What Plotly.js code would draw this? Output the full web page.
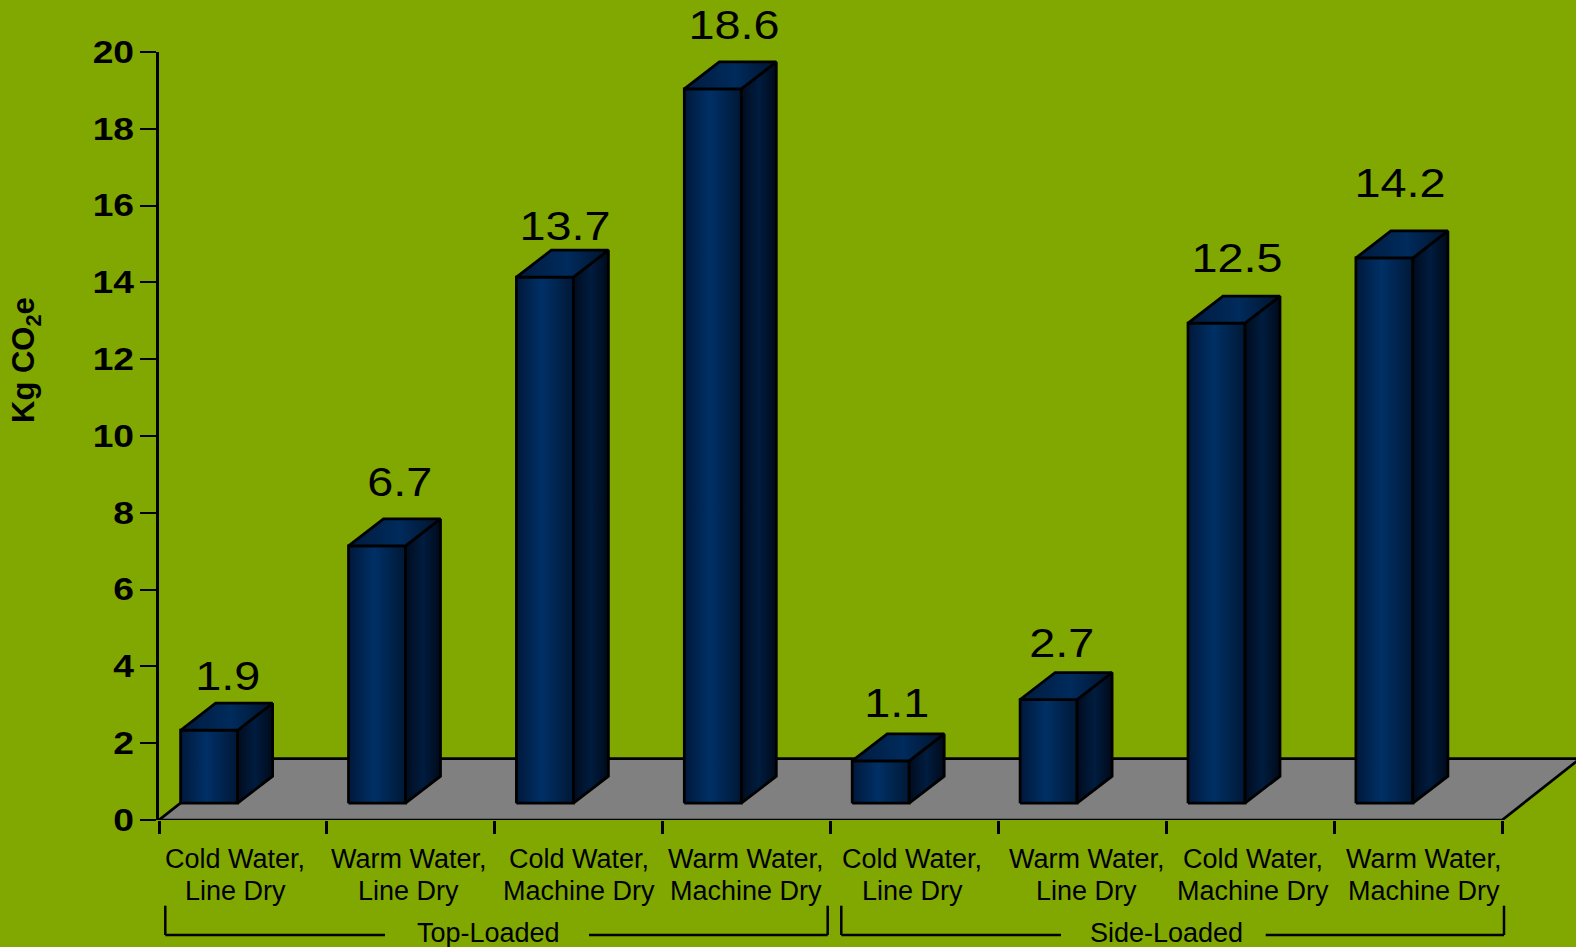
<!DOCTYPE html>
<html>
<head>
<meta charset="utf-8">
<script src="https://cdn.plot.ly/plotly-3.0.1.min.js"></script>
<style>
  html, body { margin: 0; padding: 0; background: #80a800; overflow: hidden; }
</style>
</head>
<body>
<div id="chart"></div>
<script>
// Laundry footprint per load, one column per wash and dry routine
const categories = [
  ["Cold Water,", "Line Dry"], ["Warm Water,", "Line Dry"],
  ["Cold Water,", "Machine Dry"], ["Warm Water,", "Machine Dry"],
  ["Cold Water,", "Line Dry"], ["Warm Water,", "Line Dry"],
  ["Cold Water,", "Machine Dry"], ["Warm Water,", "Machine Dry"]
];
const values = [1.9, 6.7, 13.7, 18.6, 1.1, 2.7, 12.5, 14.2];
const yTicks = [0, 2, 4, 6, 8, 10, 12, 14, 16, 18, 20];
const xTicks = [0, 1, 2, 3, 4, 5, 6, 7, 8];
const groups = ["Top-Loaded", "Side-Loaded"];

// Hand placement of the text, in pixels or category units
const valueShiftX = [18.7, 23.3, 20.4, 21.5, 16.1, 13.7, 20.8, 15.9];
const valueLift = [27, 37, 24, 37, 31, 30, 38, 48];
const categoryCentres = [0.453, 1.486, 2.499, 3.499, 4.485, 5.527, 6.513, 7.537];
const groupCentres = [1.96, 6.0];

// Plot box in page pixels; the floor runs off the right side of the page
const W = 1576, H = 947;
const M = { l: 159, r: 0, t: 52, b: 127 };
const catPx = 167.9;
const pxY = (H - M.t - M.b) / 20;

// Oblique projection of the columns and floor, in axis units
const barLeft = 21.6 / catPx, barWidth = 57 / catPx;
const barBase = 16.8 / pxY;
const depthX = 35 / catPx, depthY = 27 / pxY;
const floorX = 78 / catPx, floorY = 61.5 / pxY;

const ink = "#000000";
const edge = { color: ink, width: 2.75 };
const sans = "Liberation Sans, Arial, sans-serif";

// Numerals are set wider than the font's natural proportions
const valueWiden = 1.17, tickWiden = 1.2;

function poly(name, xs, ys, fillOpts) {
  return Object.assign({
    type: "scatter", mode: "lines", name,
    x: xs.concat(xs[0]), y: ys.concat(ys[0]),
    fill: "toself", line: edge, hoverinfo: "skip", showlegend: false
  }, fillOpts);
}
const shade = (stops) => ({
  fillgradient: { type: "horizontal", colorscale: stops }
});

const frontStops = [[0, "#00183a"], [0.45, "#003066"], [1, "#001836"]];
const sideStops = [[0, "#000c1e"], [0.5, "#001c3f"], [1, "#000a1a"]];
const topStops = [[0, "#001a3d"], [0.55, "#002b5c"], [1, "#00132c"]];

const traces = [];

// Floor: its front edge doubles as the category axis line
traces.push(poly("floor",
  [0, 8, 8 + floorX, floorX],
  [0, 0, floorY, floorY],
  { fillcolor: "#808080" }));

values.forEach((v, i) => {
  const x0 = i + barLeft, x1 = x0 + barWidth;
  const y0 = barBase, y1 = barBase + v;
  traces.push(poly("front " + i, [x0, x1, x1, x0], [y0, y0, y1, y1], shade(frontStops)));
  traces.push(poly("side " + i,
    [x1, x1 + depthX, x1 + depthX, x1],
    [y0, y0 + depthY, y1 + depthY, y1], shade(sideStops)));
  traces.push(poly("top " + i,
    [x0, x1, x1 + depthX, x0 + depthX],
    [y1, y1, y1 + depthY, y1 + depthY], shade(topStops)));
});

// Page-pixel to paper conversion for everything outside the plot box
const boxW = W - M.l - M.r, boxH = H - M.t - M.b;
const paperX = (p) => (p - M.l) / boxW;
const paperY = (p) => (H - M.b - p) / boxH;

// Brackets under the categories, each broken around its group name
const bracketTop = 905.7, bracketLow = 935;
function bracket(left, gapL, gapR, right) {
  const seg = (a, b, c, d) => ({
    type: "line", xref: "paper", yref: "paper",
    x0: paperX(a), y0: paperY(b), x1: paperX(c), y1: paperY(d),
    line: { color: ink, width: 2.5 }
  });
  return [
    seg(left, bracketTop, left, bracketLow), seg(left, bracketLow, gapL, bracketLow),
    seg(gapR, bracketLow, right, bracketLow), seg(right, bracketLow, right, bracketTop)
  ];
}
const shapes = bracket(165.3, 385, 589, 827.7).concat(bracket(841.3, 1061, 1265.7, 1504));

const annotations = [];
const note = (text, x, y, size, extra) => annotations.push(Object.assign({
  text, x, y, xref: "x", yref: "paper", showarrow: false,
  xanchor: "center", yanchor: "middle",
  font: { family: sans, size, color: ink }
}, extra));

values.forEach((v, i) => {
  note(v.toFixed(1), i + barLeft + barWidth / 2, barBase + v + depthY, 40, {
    yref: "y", xshift: valueShiftX[i], yshift: valueLift[i]
  });
});
categories.forEach((lines, i) => {
  note(lines[0], categoryCentres[i], paperY(859), 27);
  note(lines[1], categoryCentres[i], paperY(891), 27);
});
groups.forEach((g, i) => note(g, groupCentres[i], paperY(932.7), 27));

// Axis name, with its subscript
note("Kg CO<sub>2</sub>e", 0, paperY(360), 31, {
  xref: "paper", x: paperX(26), textangle: -90,
  font: { family: sans, size: 31, weight: 700, color: ink }
});

const layout = {
  width: W, height: H,
  margin: { l: M.l, r: M.r, t: M.t, b: M.b, pad: 0 },
  paper_bgcolor: "#80a800",
  plot_bgcolor: "rgba(0,0,0,0)",
  showlegend: false,
  font: { family: sans, color: ink },
  xaxis: {
    range: [0, boxW / catPx], tickmode: "array", tickvals: xTicks,
    showticklabels: false, ticks: "outside", ticklen: 13, tickwidth: 2.5, tickcolor: ink,
    showgrid: false, zeroline: false, showline: false, fixedrange: true
  },
  yaxis: {
    range: [0, 20], tickmode: "array", tickvals: yTicks, ticktext: yTicks.map(String),
    ticks: "outside", ticklen: 16, tickwidth: 2, tickcolor: ink,
    tickfont: { family: sans, size: 31, weight: 700, color: ink },
    showline: true, linecolor: ink, linewidth: 2.5,
    showgrid: false, zeroline: false, fixedrange: true
  },
  shapes,
  annotations
};

// Widen a text element about a vertical line given by the pick function
function widen(el, factor, pick) {
  const box = el.getBBox();
  const cx = pick(box);
  el.setAttribute("transform",
    (el.getAttribute("transform") || "") +
    ` translate(${cx} 0) scale(${factor} 1) translate(${-cx} 0)`);
}

Plotly.newPlot("chart", traces, layout, { displayModeBar: false, responsive: false }).then((gd) => {
  gd.querySelectorAll(".ytick text").forEach((el) => widen(el, tickWiden, (b) => b.x + b.width));
  const notes = gd.querySelectorAll(".annotation-text");
  values.forEach((v, i) => widen(notes[i], valueWiden, (b) => b.x + b.width / 2));
});
</script>
</body>
</html>
